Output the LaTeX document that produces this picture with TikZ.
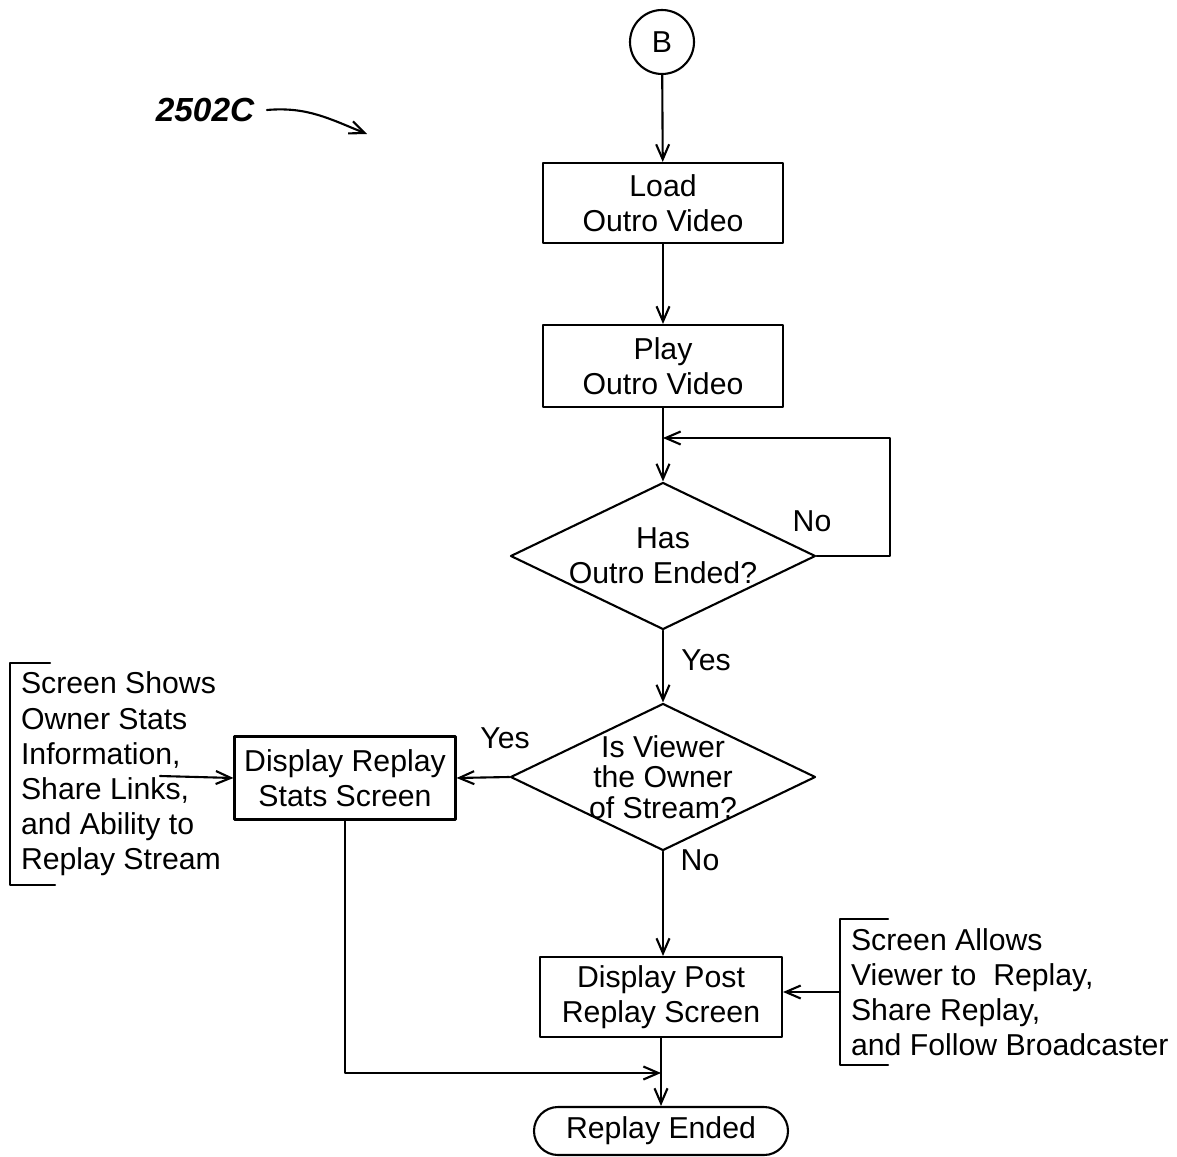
\documentclass[tikz,border=0pt]{standalone}
\usepackage{fontspec}
\setmainfont{Liberation Sans}
\usepackage{tikz}
\usetikzlibrary{arrows.meta,shapes.geometric}
\tikzset{
  every picture/.style={line join=round, line cap=round, >={Straight Barb[length=1.5mm,width=1.3mm]}},
  box/.style={draw, align=center, minimum width=24mm, minimum height=8mm, inner sep=0pt},
  dec/.style={draw, diamond, inner sep=0pt, minimum width=30.5mm, minimum height=14.7mm},
  term/.style={draw, rounded corners=2.4mm, minimum width=25.4mm, minimum height=4.8mm, inner sep=0pt},
  note/.style={align=left, anchor=west, inner xsep=1mm, inner ysep=0.8mm},
}

\begin{document}
\begin{tikzpicture}[x=0.1mm,y=0.1mm,line width=0.6pt,font=\fontsize{8.6}{10}\selectfont]
\useasboundingbox (0,0) rectangle (1177,-1157);
\node[draw,circle,minimum size=6.4mm,inner sep=0pt](b) at (662,-42){B};
\node[font=\fontsize{9.5}{11}\selectfont\bfseries\itshape](tag) at (205,-110){2502C};
\coordinate(tagend) at (367,-134);
\draw[->](tag.east) to[out=5,in=158] (tagend);
\node[box](load) at (663,-203){Load\\Outro Video};
\node[box,minimum height=8.2mm](play) at (663,-366){Play\\Outro Video};
\node[dec,label={[align=center]center:Has\\Outro Ended?}](has) at (663,-556){};
\node[dec,label={[align=center,font=\fontsize{8.6}{8.6}\selectfont]center:Is Viewer\\the Owner\\of Stream?}](owner) at (663,-777){};
\node[box,minimum width=22.1mm,minimum height=8.3mm](stats) at (345,-778){Display Replay\\Stats Screen};
\node[box,minimum width=24.2mm](post) at (661,-997){Display Post\\Replay Screen};
\node[term](ended) at (661,-1131){Replay Ended};
\node[note](lnote) at (10,-774){Screen Shows\\Owner Stats\\Information,\\Share Links,\\and Ability to\\Replay Stream};
\node[note](rnote) at (840,-992){Screen Allows\\Viewer to\ \ Replay,\\Share Replay,\\and Follow Broadcaster};
\draw([xshift=4mm]lnote.north west)--(lnote.north west)--(lnote.south west)--++(45,0);
\draw([xshift=4.8mm]rnote.north west)--(rnote.north west)--(rnote.south west)--++(48,0);
\coordinate(lpt) at (160,-776);
\coordinate(loopc) at (890,-438);
\coordinate(join) at (661,-1073);
\draw[->](b)--(load);
\draw[->](load)--(play);
\draw[->](play)--(has);
\draw[->](has.east)-|(loopc)--(loopc-|play.south);
\node(no1) at (812,-521){No};
\draw[->](has)--(owner);
\node(yes1) at (706,-660){Yes};
\draw[->](owner.west)--(stats.east);
\node(yes2) at (505,-738){Yes};
\draw[->](owner.south)--(owner.south|-post.north);
\node(no2) at (700,-860){No};
\draw[->](lpt)--(stats.west);
\draw[->](rnote.west)--(rnote.west-|post.east);
\draw[->](stats.south)|-(join);
\draw[->](post)--(ended);
\end{tikzpicture}
\end{document}
